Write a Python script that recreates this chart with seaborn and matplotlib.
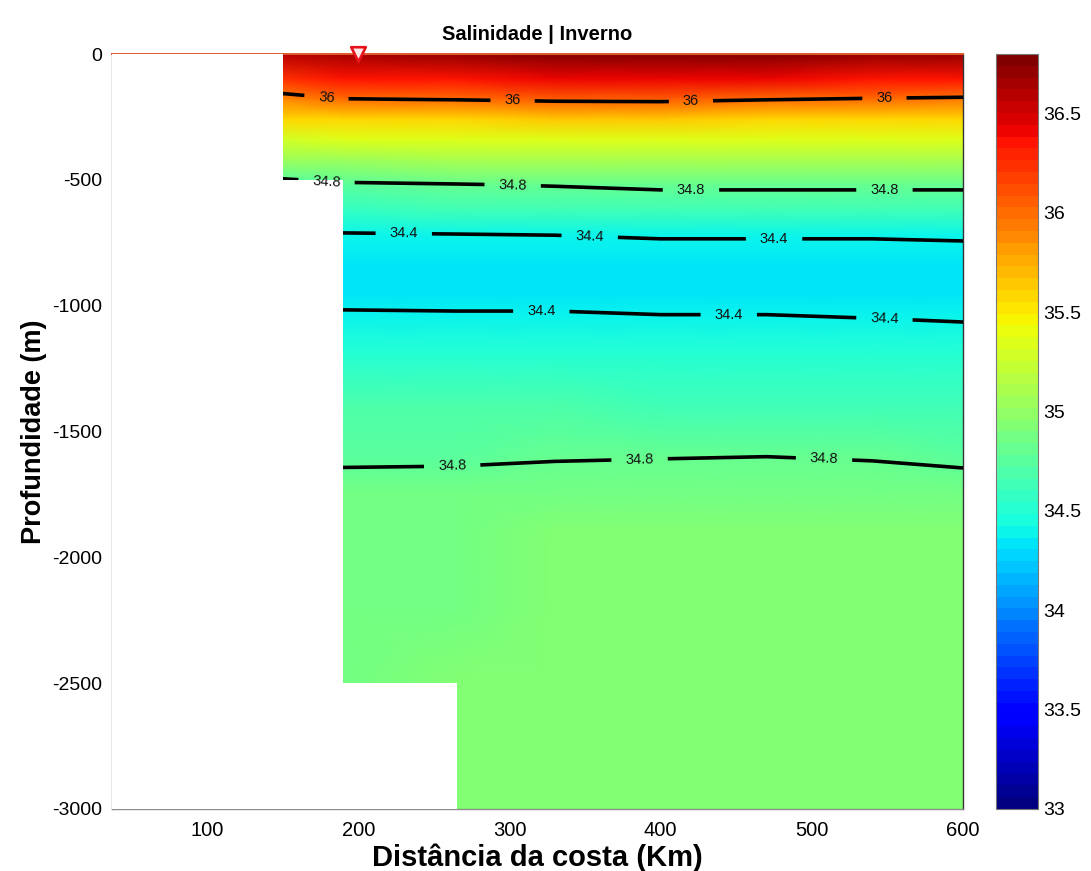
import numpy as np
import matplotlib
matplotlib.use("Agg")
import matplotlib.pyplot as plt
from matplotlib.colors import ListedColormap, Normalize
import seaborn as sns

# ---- section data -------------------------------------------------------
distance_km = [37, 150, 190, 265, 330, 400, 470, 540, 600]
depth_m = [0, 100, 180, 260, 340, 420, 520, 620, 720, 850, 950, 1050,
           1200, 1400, 1600, 1750, 1900, 2200, 2500, 3000]

# salinity profiles (one per station, following depth_m)
sal_037 = [36.55, 36.22, 35.88, 35.57, 35.29, 35.04, 34.72, 34.58, 34.38, 34.32,
           34.36, 34.42, 34.53, 34.67, 34.78, 34.85, 34.87, 34.88, 34.89, 34.90]
sal_150 = [36.60, 36.25, 35.90, 35.58, 35.30, 35.05, 34.72, 34.58, 34.38, 34.32,
           34.36, 34.42, 34.53, 34.67, 34.78, 34.85, 34.87, 34.88, 34.89, 34.90]
sal_190 = [36.66, 36.33, 35.99, 35.60, 35.32, 35.07, 34.77, 34.60, 34.38, 34.32,
           34.36, 34.42, 34.53, 34.67, 34.78, 34.85, 34.87, 34.88, 34.89, 34.90]
sal_265 = [36.70, 36.36, 36.01, 35.61, 35.33, 35.08, 34.79, 34.61, 34.39, 34.32,
           34.35, 34.42, 34.53, 34.67, 34.78, 34.86, 34.88, 34.89, 34.91, 34.93]
sal_330 = [36.75, 36.40, 36.04, 35.62, 35.34, 35.09, 34.81, 34.63, 34.40, 34.32,
           34.35, 34.42, 34.53, 34.67, 34.79, 34.87, 34.90, 34.92, 34.93, 34.93]
sal_400 = [36.75, 36.40, 36.05, 35.62, 35.33, 35.08, 34.84, 34.64, 34.41, 34.32,
           34.34, 34.41, 34.52, 34.66, 34.795, 34.88, 34.93, 34.94, 34.94, 34.94]
sal_470 = [36.75, 36.40, 36.01, 35.61, 35.33, 35.08, 34.84, 34.64, 34.41, 34.32,
           34.34, 34.41, 34.52, 34.66, 34.80, 34.88, 34.93, 34.94, 34.94, 34.94]
sal_540 = [36.72, 36.37, 35.98, 35.61, 35.33, 35.08, 34.84, 34.64, 34.41, 34.32,
           34.33, 34.40, 34.51, 34.65, 34.79, 34.88, 34.93, 34.94, 34.94, 34.94]
sal_600 = [36.70, 36.35, 35.96, 35.60, 35.33, 35.08, 34.84, 34.64, 34.415, 34.33,
           34.32, 34.39, 34.49, 34.63, 34.77, 34.87, 34.92, 34.93, 34.93, 34.93]

# sea-floor steps (left edge of each step, depth below it is land)
bottom_x = [37, 150, 190, 265, 600]
bottom_depth = [0, 500, 2500, 3000, 3000]

# CTD station on the surface
station_x = [200]
station_depth = [0]

contour_levels = [34.4, 34.8, 36.0]
cbar_ticks = [33, 33.5, 34, 34.5, 35, 35.5, 36, 36.5]
x_ticks = [100, 200, 300, 400, 500, 600]
y_ticks = [-3000, -2500, -2000, -1500, -1000, -500, 0]

# label anchors along the isohalines (km, m)
label_spots = [(179, -160), (302, -185), (420, -188), (548, -176),
               (179, -495), (302, -530), (420, -538), (548, -540),
               (230, -712), (353, -725), (475, -733),
               (321, -1027), (445, -1036), (548, -1052),
               (262, -1630), (386, -1610), (508, -1614)]

# ---- style ---------------------------------------------------------------
sns.set_theme(style="white")
plt.rcParams["font.family"] = ["Liberation Sans", "DejaVu Sans"]
plt.rcParams["axes.unicode_minus"] = False
plt.rcParams["text.color"] = "black"
plt.rcParams["axes.labelcolor"] = "black"

salinity = np.column_stack([sal_037, sal_150, sal_190, sal_265, sal_330,
                            sal_400, sal_470, sal_540, sal_600])
X, Z = np.meshgrid(distance_km, -np.asarray(depth_m, dtype=float))

cmap = ListedColormap(plt.get_cmap("jet")(np.linspace(0, 1, 64)))
norm = Normalize(vmin=33.0, vmax=36.8)

fig = plt.figure(figsize=(10.91, 8.71), dpi=100)
ax = fig.add_axes([0.1027, 0.0712, 0.7800, 0.8668])
cax = fig.add_axes([0.9129, 0.0712, 0.0385, 0.8668])

mesh = ax.pcolormesh(X, Z, salinity, shading="gouraud", cmap=cmap, norm=norm,
                     zorder=1)

cs = ax.contour(X, Z, salinity, levels=contour_levels, colors="black",
                linewidths=2.6, zorder=3)
ax.clabel(cs, fmt=lambda v: f"{v:g}", fontsize=10.5, inline=True,
          inline_spacing=14, manual=label_spots, colors="#111111")

# land / below the sea floor
ax.fill_between(bottom_x, -np.asarray(bottom_depth, dtype=float), -3000,
                step="post", color="white", linewidth=0, zorder=4)

ax.scatter(station_x, station_depth, marker="v", s=110, facecolor="#ffe8e8",
           edgecolor="#e8121b", linewidth=1.9, zorder=6, clip_on=False)

ax.set_xlim(37, 600)
ax.set_ylim(-3000, 0)
ax.set_xticks(x_ticks)
ax.set_yticks(y_ticks)
ax.set_xticklabels([str(t) for t in x_ticks], fontsize=14.5)
ax.set_yticklabels([str(t) for t in y_ticks], fontsize=14)
ax.tick_params(axis="both", direction="in", length=5, width=0.8,
               colors="#555555", labelcolor="black", pad=7)
ax.tick_params(axis="x", pad=9)

for side in ("left", "bottom"):
    ax.spines[side].set_color("#8c8c8c")
    ax.spines[side].set_linewidth(1.0)
ax.spines["right"].set_color("#333333")
ax.spines["right"].set_linewidth(1.0)
ax.spines["top"].set_color("#e05a2e")
ax.spines["top"].set_linewidth(1.4)

ax.set_title("Salinidade | Inverno", fontsize=14.5, fontweight="bold", pad=10,
             color="black")
ax.set_xlabel("Distância da costa (Km)", fontsize=21, fontweight="bold",
              labelpad=2)
ax.set_ylabel("Profundidade (m)", fontsize=19.5, fontweight="bold",
              labelpad=4)

cb = fig.colorbar(mesh, cax=cax, ticks=cbar_ticks)
cb.ax.set_yticklabels([f"{t:g}" for t in cbar_ticks])
cb.ax.tick_params(direction="in", length=5, width=0.8, colors="#555555",
                  labelcolor="black", labelsize=14, pad=4)
cb.outline.set_edgecolor("#777777")
cb.outline.set_linewidth(0.8)

fig.savefig("out.png", dpi=100)
